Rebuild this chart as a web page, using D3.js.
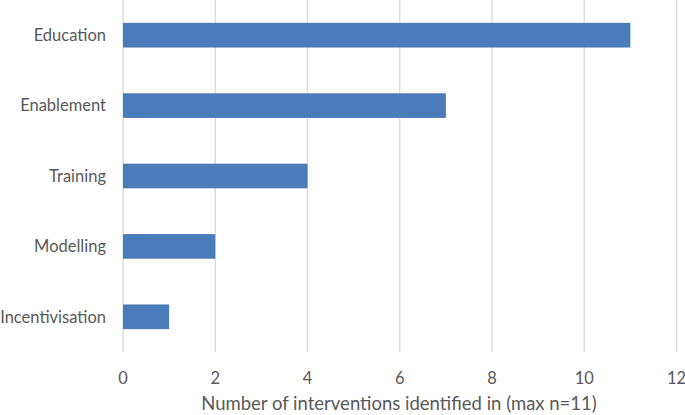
<!DOCTYPE html>
<html>
<head>
<meta charset="utf-8">
<script src="https://cdn.jsdelivr.net/npm/d3@7"></script>
<style>
  body { margin: 0; background: #fff; }
  text { font-family: Lato, "Open Sans", sans-serif; fill: #595959; }
</style>
</head>
<body>
<div class="chart"></div>
<script>
// data
const categories = ["Education", "Enablement", "Training", "Modelling", "Incentivisation"];
const counts = [11, 7, 4, 2, 1];
const xTicks = [0, 2, 4, 6, 8, 10, 12];
const xTitle = "Number of interventions identified in (max n=11)";

const width = 685, height = 415;
const plotLeft = 123, plotRight = 676.5, plotTop = 0, plotBottom = 352;

const svg = d3.select(".chart").append("svg")
    .attr("width", width)
    .attr("height", height);

const x = d3.scaleLinear().domain([0, 12]).range([plotLeft, plotRight]);
const y = d3.scaleBand().domain(categories).range([plotTop, plotBottom]).paddingInner(0.65).paddingOuter(0.325);

// gridlines
svg.append("g")
    .selectAll("line")
    .data(xTicks)
    .join("line")
    .attr("x1", d => x(d))
    .attr("x2", d => x(d))
    .attr("y1", plotTop)
    .attr("y2", plotBottom)
    .attr("stroke", "#d9d9d9")
    .attr("stroke-width", 1.3);

// bars
svg.append("g")
    .selectAll("rect")
    .data(categories)
    .join("rect")
    .attr("x", x(0))
    .attr("y", d => y(d))
    .attr("width", (d, i) => x(counts[i]) - x(0))
    .attr("height", y.bandwidth())
    .attr("fill", "#4a7cba");

// category labels
svg.append("g")
    .selectAll("text")
    .data(categories)
    .join("text")
    .text(d => d)
    .attr("x", 106)
    .attr("y", d => y(d) + y.bandwidth() / 2)
    .attr("dy", "0.35em")
    .attr("text-anchor", "end")
    .attr("font-size", 16.5);

// x tick labels
svg.append("g")
    .selectAll("text")
    .data(xTicks)
    .join("text")
    .text(d => d)
    .attr("x", d => x(d))
    .attr("y", 384)
    .attr("text-anchor", "middle")
    .attr("font-size", 16.5);

svg.append("text")
    .text(xTitle)
    .attr("x", 399)
    .attr("y", 410)
    .attr("text-anchor", "middle")
    .attr("font-size", 18.5);
</script>
</body>
</html>
